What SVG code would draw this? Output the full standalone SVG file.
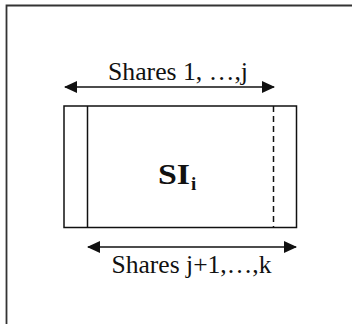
<svg xmlns="http://www.w3.org/2000/svg" width="352" height="324" viewBox="0 0 352 324">
<defs>
<style>
.ln{stroke:#111;stroke-width:1.5;fill:none}
.t{font-family:"Liberation Serif","Times New Roman",serif;fill:#111}
</style>
<marker id="ah" viewBox="0 0 13 12" refX="12" refY="6" markerWidth="13" markerHeight="12" markerUnits="userSpaceOnUse" orient="auto-start-reverse">
<path d="M0,0 L13,6 L0,12 Z" fill="#111"/>
</marker>
</defs>
<rect width="352" height="324" fill="#fff"/>
<path id="frame" d="M6.5,324 V5.5 H352" stroke="#333" stroke-width="1.8" fill="none"/>
<g id="node-SI">
<rect x="64" y="106" width="232.5" height="121.5" class="ln"/>
<line x1="87.5" y1="106" x2="87.5" y2="227.5" class="ln"/>
<line x1="273.5" y1="106" x2="273.5" y2="227.5" class="ln" stroke-dasharray="6,4"/>
<text x="158" y="184" class="t" font-size="30" font-weight="bold" textLength="32" lengthAdjust="spacingAndGlyphs">SI</text>
<text x="191" y="190" class="t" font-size="19" font-weight="bold">i</text>
</g>
<g id="connectors">
<line x1="65" y1="87" x2="274" y2="87" class="ln" stroke-width="2" marker-start="url(#ah)" marker-end="url(#ah)"/>
<line x1="88" y1="247" x2="296" y2="247" class="ln" stroke-width="2" marker-start="url(#ah)" marker-end="url(#ah)"/>
</g>
<g id="label-top">
<text x="108" y="80" class="t" font-size="26" textLength="140" lengthAdjust="spacingAndGlyphs">Shares 1, …,j</text>
</g>
<g id="label-bottom">
<text x="111.5" y="273" class="t" font-size="26" textLength="160" lengthAdjust="spacingAndGlyphs">Shares j+1,…,k</text>
</g>
</svg>
